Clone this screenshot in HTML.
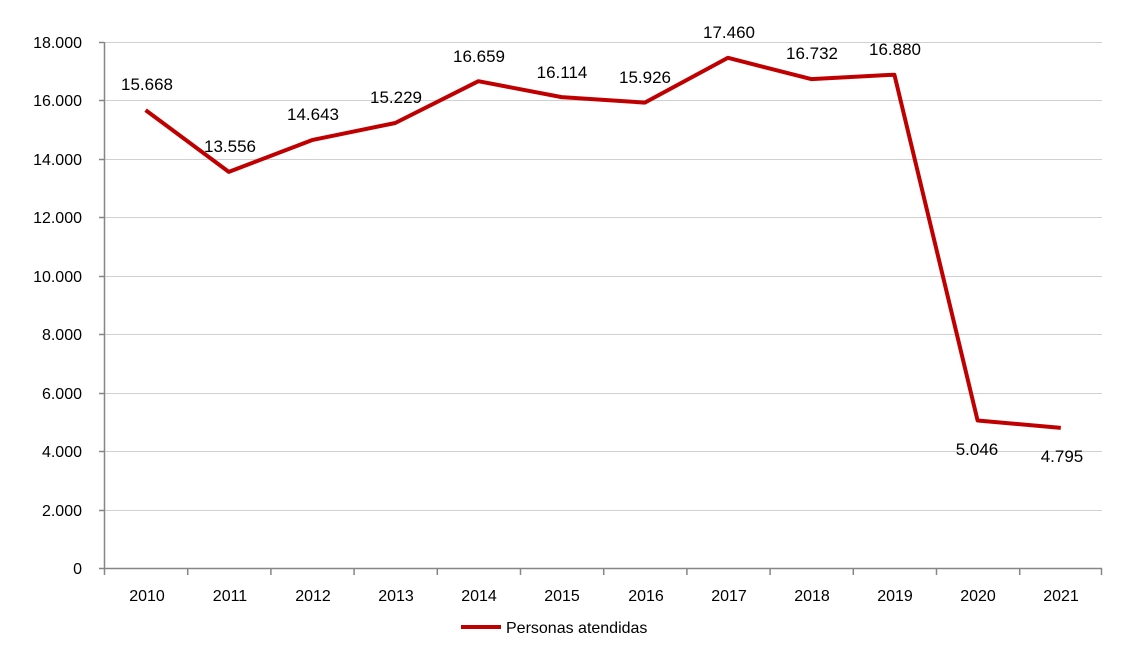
<!DOCTYPE html>
<html><head><meta charset="utf-8"><style>
html,body{margin:0;padding:0;background:#fff;}
svg{display:block;}
text{font-family:"Liberation Sans",Arial,sans-serif;fill:#000;}
</style></head><body>
<svg width="1122" height="652" viewBox="0 0 1122 652" xmlns="http://www.w3.org/2000/svg">
<g stroke="#d0d0d0" stroke-width="1">
<line x1="104" y1="42.5" x2="1102" y2="42.5"/>
<line x1="104" y1="100.5" x2="1102" y2="100.5"/>
<line x1="104" y1="159.5" x2="1102" y2="159.5"/>
<line x1="104" y1="217.5" x2="1102" y2="217.5"/>
<line x1="104" y1="276.5" x2="1102" y2="276.5"/>
<line x1="104" y1="334.5" x2="1102" y2="334.5"/>
<line x1="104" y1="393.5" x2="1102" y2="393.5"/>
<line x1="104" y1="451.5" x2="1102" y2="451.5"/>
<line x1="104" y1="510.5" x2="1102" y2="510.5"/>
</g>
<g stroke="#868686" stroke-width="1.5">
<line x1="104.5" y1="42" x2="104.5" y2="569"/>
<line x1="99" y1="568.5" x2="1102" y2="568.5"/>
<line x1="99" y1="42.5" x2="104" y2="42.5"/><line x1="99" y1="100.5" x2="104" y2="100.5"/><line x1="99" y1="159.5" x2="104" y2="159.5"/><line x1="99" y1="217.5" x2="104" y2="217.5"/><line x1="99" y1="276.5" x2="104" y2="276.5"/><line x1="99" y1="334.5" x2="104" y2="334.5"/><line x1="99" y1="393.5" x2="104" y2="393.5"/><line x1="99" y1="451.5" x2="104" y2="451.5"/><line x1="99" y1="510.5" x2="104" y2="510.5"/>
<line x1="104.5" y1="568" x2="104.5" y2="575"/><line x1="187.7" y1="568" x2="187.7" y2="575"/><line x1="270.9" y1="568" x2="270.9" y2="575"/><line x1="354.1" y1="568" x2="354.1" y2="575"/><line x1="437.3" y1="568" x2="437.3" y2="575"/><line x1="520.5" y1="568" x2="520.5" y2="575"/><line x1="603.7" y1="568" x2="603.7" y2="575"/><line x1="686.9" y1="568" x2="686.9" y2="575"/><line x1="770.1" y1="568" x2="770.1" y2="575"/><line x1="853.3" y1="568" x2="853.3" y2="575"/><line x1="936.5" y1="568" x2="936.5" y2="575"/><line x1="1019.7" y1="568" x2="1019.7" y2="575"/><line x1="1101.5" y1="568" x2="1101.5" y2="575"/>
</g>
<g font-size="16" text-anchor="end">
<text x="82" y="48">18.000</text><text x="82" y="106">16.000</text><text x="82" y="165">14.000</text><text x="82" y="223">12.000</text><text x="82" y="282">10.000</text><text x="82" y="340">8.000</text><text x="82" y="399">6.000</text><text x="82" y="457">4.000</text><text x="82" y="516">2.000</text><text x="82" y="574">0</text>
</g>
<g font-size="16" text-anchor="middle">
<text x="147" y="601">2010</text><text x="230" y="601">2011</text><text x="313" y="601">2012</text><text x="396" y="601">2013</text><text x="479" y="601">2014</text><text x="562" y="601">2015</text><text x="646" y="601">2016</text><text x="729" y="601">2017</text><text x="812" y="601">2018</text><text x="895" y="601">2019</text><text x="978" y="601">2020</text><text x="1061" y="601">2021</text>
</g>
<polyline fill="none" stroke="#c00000" stroke-width="4" stroke-linejoin="round" points="145.6,110.1 228.8,171.9 312,140.1 395.2,123 478.4,81.2 561.6,97.1 644.8,102.6 728,57.8 811.2,79.1 894.4,74.7 977.6,420.5 1060.8,427.9"/>
<g font-size="17" text-anchor="middle">
<text x="147" y="90">15.668</text><text x="230" y="152">13.556</text><text x="313" y="120">14.643</text><text x="396" y="103">15.229</text><text x="479" y="62">16.659</text><text x="562" y="78">16.114</text><text x="645" y="83">15.926</text><text x="729" y="38">17.460</text><text x="812" y="59">16.732</text><text x="895" y="55">16.880</text><text x="977" y="455">5.046</text><text x="1062" y="462">4.795</text>
</g>
<line x1="461" y1="627" x2="501" y2="627" stroke="#c00000" stroke-width="4"/>
<text x="506" y="633" font-size="16">Personas atendidas</text>
</svg>
</body></html>
